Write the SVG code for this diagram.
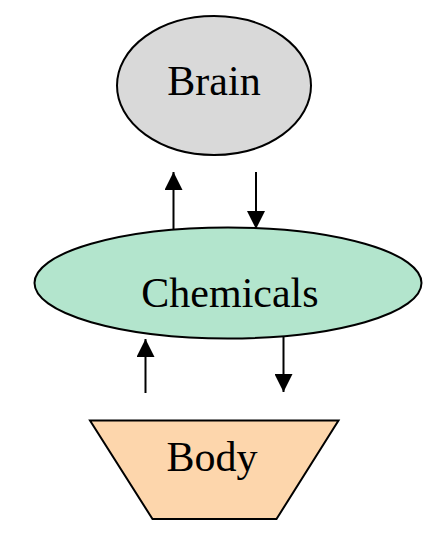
<svg xmlns="http://www.w3.org/2000/svg" width="446" height="544" viewBox="0 0 446 544">
<defs>
<style>
.shape{stroke:#000;stroke-width:2}
.lbl{font-family:"Liberation Serif","Times New Roman",serif;font-size:42px;fill:#000;text-anchor:middle}
.conn{stroke:#000;stroke-width:2;fill:none;marker-end:url(#ah)}
</style>
<marker id="ah" viewBox="0 0 10 10" refX="10" refY="5" markerUnits="userSpaceOnUse" markerWidth="19" markerHeight="18" orient="auto">
<path d="M0,0 L10,5 L0,10 Z" fill="#000"/>
</marker>
</defs>
<rect width="446" height="544" fill="#fff"/>
<g id="connectors">
<line class="conn" x1="173.5" y1="229" x2="173.5" y2="172"/>
<line class="conn" x1="256" y1="172" x2="256" y2="229"/>
<line class="conn" x1="145.5" y1="393" x2="145.5" y2="339"/>
<line class="conn" x1="283.5" y1="337" x2="283.5" y2="392"/>
</g>
<g id="brain">
<ellipse class="shape" cx="214" cy="85.5" rx="97" ry="69.5" fill="#d9d9d9"/>
<text class="lbl" x="214" y="95">Brain</text>
</g>
<g id="chemicals">
<ellipse class="shape" cx="228" cy="283" rx="193.5" ry="55.5" fill="#b3e5cd"/>
<text class="lbl" x="230" y="307">Chemicals</text>
</g>
<g id="body">
<polygon class="shape" points="90,420.5 338.5,420.5 276.5,519 152.5,519" fill="#fdd6ac"/>
<text class="lbl" x="212" y="471">Body</text>
</g>
</svg>
